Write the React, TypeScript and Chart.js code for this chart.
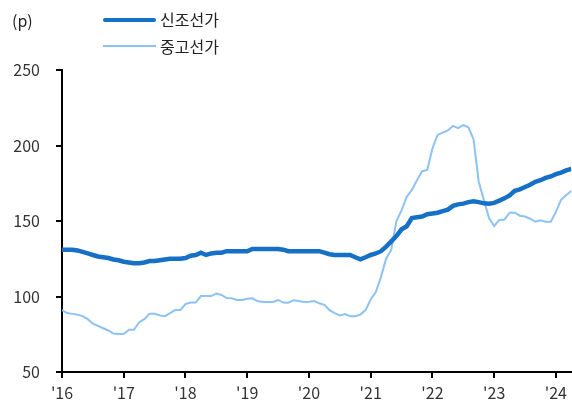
import React, { useEffect, useRef } from "react";
import { Chart, registerables } from "chart.js";

Chart.register(...registerables);

// Monthly index values, Jan 2016 .. Apr 2024
const yearLabels = ["'16", "'17", "'18", "'19", "'20", "'21", "'22", "'23", "'24"];
const yTicks = [50, 100, 150, 200, 250];
const seriesNames = ["신조선가", "중고선가"];

const newbuild = [
  131, 131, 131, 130.5, 129.5, 128.5, 127.5, 126.5, 126, 125.5, 124.5, 124,
  123, 122.5, 122, 122, 122.5, 123.5, 123.5, 124, 124.5, 125, 125, 125,
  125.5, 127, 127.5, 129, 127.5, 128.5, 129, 129, 130, 130, 130, 130,
  130, 131.5, 131.5, 131.5, 131.5, 131.5, 131.5, 131, 130, 130, 130, 130,
  130, 130, 130, 129, 128, 127.5, 127.5, 127.5, 127.5, 126, 124.6, 126,
  127.5, 128.5, 130, 133, 136.5, 140, 144.5, 146.5, 152, 152.5, 153, 154.5,
  155, 155.5, 156.5, 157.5, 160, 161, 161.5, 162.5, 163, 162.5, 161.7, 161.5,
  162, 163.5, 165, 167, 170, 171, 172.5, 174, 176, 177, 178.5, 179.5,
  181, 182, 183.5, 184.5,
];

const secondhand = [
  91, 89, 88.5, 88, 87, 85, 82, 80.5, 79, 77.5, 75.5, 75.2,
  75.2, 78, 78, 83, 85, 88.5, 88.5, 87.5, 87, 89, 91, 91,
  95, 96, 96, 100.3, 100.3, 100.3, 102, 101, 99, 98.8, 97.7, 97.7,
  98.5, 98.8, 97, 96.4, 96.4, 96.4, 97.7, 96, 95.9, 97.5, 97, 96.4,
  96.5, 97, 95.5, 94.5, 91, 89, 87.5, 88.4, 87, 87, 88, 91,
  98, 103, 113, 125, 131, 150, 157, 166, 170.5, 177, 183, 183.8,
  198, 207, 208.5, 210, 213, 211.5, 213.5, 212, 204, 176, 164, 152,
  146.7, 150.7, 151, 155.5, 155.5, 153.5, 153, 151.5, 149.5, 150.5, 149.5, 149.5,
  156, 164, 167, 170,
];

const DARK = "#1670C5";
const LIGHT = "#8DC2F4";
const FONT = "'Noto Sans CJK KR', 'Noto Sans', sans-serif";

export default function App() {
  const ref = useRef<HTMLCanvasElement>(null);

  useEffect(() => {
    const font = { family: FONT, size: 16 };
    const chart = new Chart(ref.current!, {
      type: "line",
      data: {
        datasets: [
          {
            label: seriesNames[0],
            data: newbuild.map((y, i) => ({ x: i, y })),
            borderColor: DARK,
            borderWidth: 4.5,
            pointRadius: 0,
            tension: 0,
          },
          {
            label: seriesNames[1],
            data: secondhand.map((y, i) => ({ x: i, y })),
            borderColor: LIGHT,
            borderWidth: 2,
            pointRadius: 0,
            tension: 0,
          },
        ],
      },
      options: {
        animation: false,
        responsive: false,
        layout: { padding: { top: 70, right: 0, left: 0, bottom: 0 } },
        plugins: { legend: { display: false }, tooltip: { enabled: false } },
        scales: {
          x: {
            type: "linear",
            min: 0,
            max: newbuild.length - 1,
            afterBuildTicks: (scale: any) => {
              scale.ticks = yearLabels.map((_, k) => ({ value: k * 12 }));
            },
            afterFit: (scale: any) => {
              scale.height = 31;
            },
            ticks: {
              autoSkip: false,
              maxRotation: 0,
              padding: 5,
              color: "#333",
              font,
              callback: (v: any) => yearLabels[Math.round(Number(v) / 12)] ?? "",
            },
            grid: {
              drawOnChartArea: false,
              drawTicks: true,
              tickLength: 6,
              color: "#000",
              lineWidth: 2,
            },
            border: { color: "#000", width: 2 },
          },
          y: {
            min: 50,
            max: 250,
            afterBuildTicks: (scale: any) => {
              scale.ticks = yTicks.map((v) => ({ value: v }));
            },
            afterFit: (scale: any) => {
              scale.width = 62;
            },
            ticks: { padding: 16, color: "#333", font },
            grid: {
              drawOnChartArea: false,
              drawTicks: true,
              tickLength: 6,
              color: "#000",
              lineWidth: 2,
            },
            border: { color: "#000", width: 2 },
          },
        },
      },
    });
    return () => chart.destroy();
  }, []);

  const textStyle: React.CSSProperties = {
    position: "absolute",
    fontFamily: FONT,
    fontSize: 16,
    color: "#222",
    lineHeight: "20px",
    whiteSpace: "nowrap",
  };

  return (
    <div style={{ position: "fixed", left: 0, top: 0, width: 572, height: 403, background: "#fff" }}>
      <canvas ref={ref} width={572} height={403} style={{ position: "absolute", left: 0, top: 0 }} />
      <div style={{ ...textStyle, left: 12, top: 10 }}>(p)</div>
      <div style={{ position: "absolute", left: 103, top: 18, width: 53, height: 4, background: DARK, borderRadius: 2 }} />
      <div style={{ ...textStyle, left: 160, top: 9 }}>{seriesNames[0]}</div>
      <div style={{ position: "absolute", left: 103, top: 45, width: 53, height: 2, background: LIGHT }} />
      <div style={{ ...textStyle, left: 160, top: 36 }}>{seriesNames[1]}</div>
    </div>
  );
}
